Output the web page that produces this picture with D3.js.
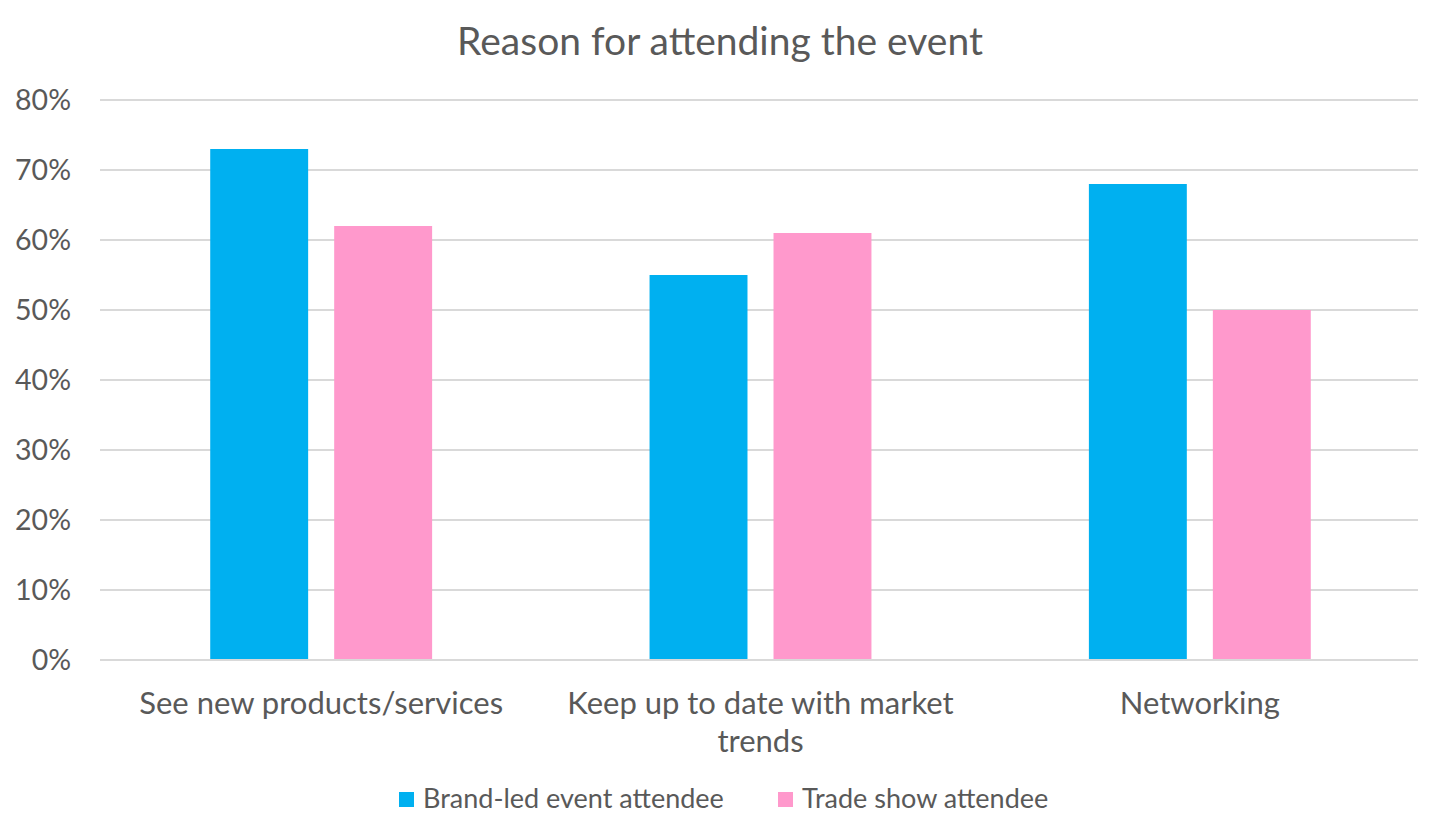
<!DOCTYPE html>
<html>
<head>
<meta charset="utf-8">
<script src="https://cdn.jsdelivr.net/npm/d3@7"></script>
<style>
  body { margin: 0; background: #fff; }
  text { font-family: Lato, "Open Sans", sans-serif; fill: #595959; }
</style>
</head>
<body>
<svg id="chart" width="1441" height="837"></svg>
<script>
const categories = ['See new products/services', 'Keep up to date with market trends', 'Networking'];
const seriesNames = ['Brand-led event attendee', 'Trade show attendee'];
const brandLed = [0.73, 0.55, 0.68];
const tradeShow = [0.62, 0.61, 0.50];
const yTicks = [0, 0.1, 0.2, 0.3, 0.4, 0.5, 0.6, 0.7, 0.8];
const colors = ['#00B0F0', '#FF99CC'];

const width = 1441, height = 837;
const margin = { top: 100, right: 23, bottom: 177, left: 100 };
const plotW = width - margin.left - margin.right;
const plotH = height - margin.top - margin.bottom;

const svg = d3.select('#chart');

const x0 = d3.scaleBand().domain(categories).range([0, plotW]).padding(0);
const x1 = d3.scaleBand().domain(seriesNames).range([0, x0.bandwidth()])
    .paddingInner(0.21).paddingOuter(0.877);
const y = d3.scaleLinear().domain([0, 0.8]).range([plotH, 0]);

const g = svg.append('g').attr('transform', `translate(${margin.left},${margin.top})`);

// title
svg.append('text')
    .attr('x', 720).attr('y', 55)
    .attr('text-anchor', 'middle')
    .style('font-size', '39px')
    .text('Reason for attending the event');

// gridlines
g.append('g')
    .selectAll('line')
    .data(yTicks)
    .enter().append('line')
    .attr('x1', 0).attr('x2', plotW)
    .attr('y1', d => y(d)).attr('y2', d => y(d))
    .attr('stroke', '#D9D9D9')
    .attr('stroke-width', 2);

// y axis labels
const yAxis = g.append('g')
    .call(d3.axisLeft(y).tickValues(yTicks).tickFormat(d3.format('.0%')).tickSize(0).tickPadding(29));
yAxis.select('.domain').remove();
yAxis.selectAll('text')
    .style('font-size', '28.5px')
    .style('font-family', 'Lato, sans-serif')
    .attr('fill', '#595959');

// bars
const rows = categories.map((c, i) => ({ category: c, values: [brandLed[i], tradeShow[i]] }));
const groups = g.append('g')
    .selectAll('g')
    .data(rows)
    .enter().append('g')
    .attr('transform', d => `translate(${x0(d.category) + 1.5},0)`);

groups.selectAll('rect')
    .data(d => d.values.map((v, i) => ({ series: seriesNames[i], value: v, idx: i })))
    .enter().append('rect')
    .attr('x', d => x1(d.series))
    .attr('y', d => y(d.value))
    .attr('width', x1.bandwidth())
    .attr('height', d => plotH - y(d.value))
    .attr('fill', d => colors[d.idx]);

// baseline drawn over bars
g.append('line')
    .attr('x1', 0).attr('x2', plotW)
    .attr('y1', plotH).attr('y2', plotH)
    .attr('stroke', '#D9D9D9')
    .attr('stroke-width', 2);

// x axis labels with wrapping
const maxLabelW = x0.bandwidth() * 0.95;
const xLabels = g.append('g')
    .selectAll('text')
    .data(categories)
    .enter().append('text')
    .attr('x', d => x0(d) + x0.bandwidth() / 2 + 1.5)
    .attr('y', plotH + 54)
    .attr('text-anchor', 'middle')
    .style('font-size', '31px');

xLabels.each(function (d) {
    const t = d3.select(this);
    const words = d.split(' ');
    let line = [];
    let tspan = t.append('tspan').attr('x', t.attr('x')).attr('dy', 0);
    words.forEach(w => {
        line.push(w);
        tspan.text(line.join(' '));
        if (tspan.node().getComputedTextLength() > maxLabelW && line.length > 1) {
            line.pop();
            tspan.text(line.join(' '));
            line = [w];
            tspan = t.append('tspan').attr('x', t.attr('x')).attr('dy', 38).text(w);
        }
    });
});

// legend
const legendItems = [
    { name: seriesNames[0], color: colors[0], x: 399 },
    { name: seriesNames[1], color: colors[1], x: 778 }
];
const legend = svg.append('g');
legendItems.forEach(item => {
    legend.append('rect')
        .attr('x', item.x).attr('y', 792)
        .attr('width', 15).attr('height', 15)
        .attr('fill', item.color);
    legend.append('text')
        .attr('x', item.x + 24).attr('y', 808)
        .style('font-size', '27px')
        .text(item.name);
});
</script>
</body>
</html>
